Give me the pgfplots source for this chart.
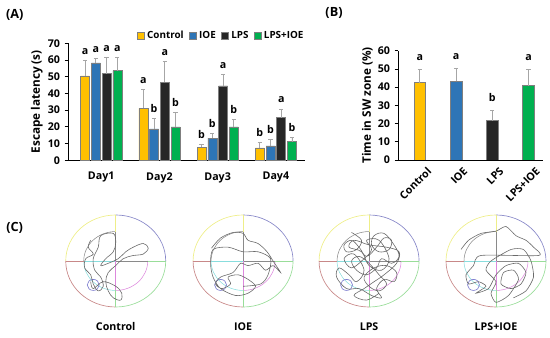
\documentclass[border=0pt]{standalone}
\usepackage{fontspec}
\setmainfont{Open Sans}
\usepackage{pgfplots}
\pgfplotsset{compat=1.18}
\usepackage{pgfplotstable}

\definecolor{cCtrl}{HTML}{FFC000}
\definecolor{cIOE}{HTML}{2E75B6}
\definecolor{cLPS}{HTML}{262626}
\definecolor{cMix}{HTML}{00B050}
\definecolor{cEdge}{HTML}{7F7F7F}
\definecolor{cErr}{HTML}{A6A6A6}
\definecolor{pY}{HTML}{EEEE88}
\definecolor{pB}{HTML}{8888C8}
\definecolor{pR}{HTML}{C88888}
\definecolor{pG}{HTML}{99DD99}
\definecolor{pK}{HTML}{8A8A8A}
\definecolor{pC}{HTML}{88DDDD}
\definecolor{pM}{HTML}{DD88DD}
\definecolor{pP}{HTML}{8080D0}
\definecolor{path}{HTML}{6A6A6A}

\newcommand{\lbl}{\bfseries\fontsize{8}{9.5}\selectfont}
\newcommand{\leglbl}{\bfseries\fontsize{7.4}{9}\selectfont}
\newcommand{\ylbl}{\bfseries\fontsize{8.8}{10.5}\selectfont}

% Panel A data: x, mean, sd, letter
\pgfplotstableread{
x y e lab
1 50.5 9.4 a
2 31.1 11.4 a
3 7.8 1.8 b
4 7.4 3.2 b
}\tCtrl
\pgfplotstableread{
x y e lab
1 58.3 2.7 a
2 18.8 6.3 b
3 13.2 2.6 b
4 8.6 4.0 b
}\tIOE
\pgfplotstableread{
x y e lab
1 51.9 9.6 a
2 46.7 12.2 a
3 44.5 6.8 a
4 25.5 5.2 a
}\tLPS
\pgfplotstableread{
x y e lab
1 53.7 8.0 a
2 20.0 8.7 b
3 20.0 4.6 b
4 11.1 2.8 b
}\tMix

\newcommand{\pooldeco}{%
 \draw[pY,line width=0.5pt] (axis cs:0,1) arc[start angle=90,end angle=180,x radius=1,y radius=1];
 \draw[pB,line width=0.5pt] (axis cs:1,0) arc[start angle=0,end angle=90,x radius=1,y radius=1];
 \draw[pR,line width=0.5pt] (axis cs:-1,0) arc[start angle=180,end angle=270,x radius=1,y radius=1];
 \draw[pG,line width=0.5pt] (axis cs:0,-1) arc[start angle=270,end angle=360,x radius=1,y radius=1];
 \draw[pK,line width=0.4pt] (axis cs:0,0.64) arc[start angle=90,end angle=180,x radius=0.64,y radius=0.64];
 \draw[pC,line width=0.4pt] (axis cs:-0.64,0) arc[start angle=180,end angle=270,x radius=0.64,y radius=0.64];
 \draw[pM,line width=0.4pt] (axis cs:0,-0.64) arc[start angle=270,end angle=360,x radius=0.64,y radius=0.64];
 \draw[pR,line width=0.5pt] (axis cs:-1,0) -- (axis cs:-0.64,0);
 \draw[pC,line width=0.5pt] (axis cs:-0.64,0) -- (axis cs:0,0);
 \draw[pK,line width=0.5pt] (axis cs:0,0) -- (axis cs:0.64,0);
 \draw[pG,line width=0.5pt] (axis cs:0.64,0) -- (axis cs:1,0);
 \draw[pY,line width=0.5pt] (axis cs:0,1) -- (axis cs:0,0.64);
 \draw[pK,line width=0.5pt] (axis cs:0,0.64) -- (axis cs:0,0);
 \draw[pM,line width=0.5pt] (axis cs:0,0) -- (axis cs:0,-0.64);
 \draw[pG,line width=0.5pt] (axis cs:0,-0.64) -- (axis cs:0,-1);
 \draw[pP,line width=0.5pt] (axis cs:-0.45,-0.52) ellipse[x radius=0.12,y radius=0.12];
}

\pgfplotsset{
  barpanel/.style={
    scale only axis,
    axis x line*=bottom, axis y line*=left,
    axis line style={black, line width=0.5pt},
    tick align=outside, major tick length=2.5pt,
    xtick style={draw=none},
    ytick style={black, line width=0.5pt},
    tick label style={font=\lbl},
    label style={font=\ylbl},
    /pgf/number format/assume math mode=true,
    error bars/y dir=plus, error bars/y explicit,
    error bars/error bar style={cErr, line width=0.6pt},
    error bars/error mark options={cErr, line width=0.6pt, mark size=1.6pt, rotate=90},
    nodes near coords={\pgfplotspointmeta},
    point meta=explicit symbolic,
  },
  poolpanel/.style={
    scale only axis, hide axis, clip=false, disabledatascaling,
    width=75pt, height=69pt,
    xmin=-1, xmax=1, ymin=-1, ymax=1,
  },
}

\begin{document}
\begin{tikzpicture}
\path (0pt,0pt) rectangle (412.5pt,253.5pt);

% ---------------- Panel A ----------------
\begin{axis}[barpanel,
  at={(51pt,133.3pt)}, anchor=south west,
  width=177.75pt, height=87.75pt,
  xmin=0.43, xmax=4.5, ymin=0, ymax=70,
  ytick={0,10,...,70},
  xtick={1,2,3,4}, xticklabels={Day1,Day2,Day3,Day4},
  xticklabel style={yshift=-3pt},
  ylabel={Escape latency (s)},
  ylabel style={yshift=-3pt},
  ybar=1.3pt, bar width=6.75pt,
  visualization depends on={\thisrow{e} \as \err},
  every node near coord/.append style={font=\lbl, anchor=base, inner sep=0pt,
     shift={(axis direction cs:0,\err)}, yshift=4.5pt},
  legend style={at={(0.29,1.065)}, anchor=west, draw=none, fill=none,
     legend columns=4, font=\leglbl, inner sep=0pt,
     /tikz/every even column/.append style={column sep=2pt}},
  legend image code/.code={\draw[#1,draw=cEdge,line width=0.4pt] (0pt,-2.6pt) rectangle (5.2pt,2.6pt);},
]
\addplot[fill=cCtrl, draw=cEdge, line width=0.4pt] table[x=x,y=y,y error=e,meta=lab] {\tCtrl};
\addplot[fill=cIOE, draw=cEdge, line width=0.4pt] table[x=x,y=y,y error=e,meta=lab] {\tIOE};
\addplot[fill=cLPS, draw=cEdge, line width=0.4pt] table[x=x,y=y,y error=e,meta=lab] {\tLPS};
\addplot[fill=cMix, draw=cEdge, line width=0.4pt] table[x=x,y=y,y error=e,meta=lab] {\tMix};
\legend{Control,IOE,LPS,LPS+IOE}
\end{axis}

% ---------------- Panel B ----------------
\begin{axis}[barpanel,
  at={(298.5pt,133.5pt)}, anchor=south west,
  width=108.75pt, height=82pt,
  xmin=0.4, xmax=4.4, ymin=0, ymax=60,
  ytick={0,10,...,60},
  xtick={1,2,3,4}, xticklabels={Control,IOE,LPS,LPS+IOE},
  xticklabel style={rotate=45, anchor=north east, inner sep=1pt, xshift=3pt, yshift=-4pt},
  ylabel={Time in SW zone (\%)},
  ylabel style={yshift=-3pt},
  ybar, bar width=8.8pt,
  visualization depends on={\thisrow{e} \as \err},
  every node near coord/.append style={font=\lbl, anchor=base, inner sep=0pt,
     shift={(axis direction cs:0,\err)}, yshift=6.5pt},
]
\addplot[bar shift=0pt, fill=cCtrl, draw=cEdge, line width=0.4pt] table[x=x,y=y,y error=e,meta=lab] {
x y e lab
1 42.4 7.5 a
};
\addplot[bar shift=0pt, fill=cIOE, draw=cEdge, line width=0.4pt] table[x=x,y=y,y error=e,meta=lab] {
x y e lab
2 43.2 7.0 a
};
\addplot[bar shift=0pt, fill=cLPS, draw=cEdge, line width=0.4pt] table[x=x,y=y,y error=e,meta=lab] {
x y e lab
3 21.6 5.6 b
};
\addplot[bar shift=0pt, fill=cMix, draw=cEdge, line width=0.4pt] table[x=x,y=y,y error=e,meta=lab] {
x y e lab
4 40.8 9.1 a
};
\end{axis}

% ---------------- Panel C ----------------
\begin{axis}[poolpanel, at={(86.8pt,57.75pt)}, anchor=center]
\pooldeco
\addplot[path, line width=0.45pt, smooth, tension=0.6] coordinates {
(-0.5,0.45) (-0.55,0.3) (-0.45,0.15) (-0.6,0.05) (-0.62,-0.15) (-0.5,-0.3) (-0.45,-0.5) (-0.35,-0.65) (-0.25,-0.55) (-0.3,-0.35) (-0.42,-0.2) (-0.45,0.05) (-0.35,0.3) (-0.3,0.55) (-0.05,0.6) (0.0,0.4) (-0.05,0.2) (-0.2,0.05) (-0.3,-0.1) (-0.15,-0.05) (0.05,0.05) (0.2,0.2) (0.35,0.3) (0.55,0.38) (0.65,0.28) (0.55,0.15) (0.35,0.12) (0.15,0.05) (0.0,-0.1) (-0.15,-0.25) (-0.2,-0.45) (-0.15,-0.65) (-0.05,-0.8) (0.1,-0.85) (0.12,-0.7) (0.0,-0.55) (-0.25,-0.45) (-0.45,-0.6) (-0.5,-0.45)
};
\end{axis}

\begin{axis}[poolpanel, at={(182.3pt,57.75pt)}, anchor=center]
\pooldeco
\addplot[path, line width=0.45pt, smooth, tension=0.5] coordinates {
(-0.63,0.28) (-0.45,0.5) (-0.2,0.62) (0.0,0.6) (0.1,0.45) (0.3,0.38) (0.48,0.2) (0.6,0.0) (0.75,-0.25) (0.6,-0.1) (0.45,-0.2) (0.3,-0.05) (0.1,-0.1) (-0.05,-0.05) (-0.2,-0.25) (-0.45,-0.35) (-0.55,-0.5) (-0.42,-0.6) (-0.25,-0.5) (-0.3,-0.35) (-0.1,-0.3) (0.1,-0.4) (0.25,-0.55) (0.1,-0.7) (-0.15,-0.75) (-0.45,-0.6) (-0.6,-0.35) (-0.65,-0.05) (-0.6,0.25) (-0.3,0.3) (0.0,0.2) (0.3,0.2) (0.55,0.05) (0.5,-0.3) (0.35,-0.5) (0.0,-0.55)
};
\end{axis}

\begin{axis}[poolpanel, at={(276.8pt,57.75pt)}, anchor=center]
\pooldeco
\addplot[path, line width=0.45pt, smooth, tension=0.6] coordinates {
(-0.35,0.62) (-0.15,0.45) (-0.25,0.25) (-0.45,0.2) (-0.5,0.35) (-0.35,0.45) (-0.2,0.3) (-0.05,0.1) (0.15,0.3) (0.3,0.5) (0.45,0.45) (0.4,0.25) (0.2,0.2) (0.05,0.35) (0.1,0.55) (0.3,0.6) (0.5,0.35) (0.6,0.1) (0.45,-0.05) (0.25,0.05) (0.15,-0.15) (-0.05,-0.3) (-0.25,-0.2) (-0.35,0.0) (-0.2,0.1) (0.0,-0.05) (0.2,-0.3) (0.35,-0.5) (0.2,-0.65) (0.0,-0.55) (-0.1,-0.35) (0.1,-0.15) (0.35,-0.1) (0.55,-0.25) (0.5,-0.45) (0.3,-0.4) (0.15,-0.6) (0.25,-0.8) (0.05,-0.75) (-0.2,-0.6) (-0.45,-0.6) (-0.65,-0.35) (-0.6,-0.15) (-0.4,-0.3) (-0.25,-0.45) (-0.1,-0.2) (-0.3,0.15) (-0.5,0.05) (-0.35,-0.15) (-0.1,0.05) (0.05,0.25) (-0.05,0.45) (0.2,0.45) (0.4,0.05) (0.25,-0.2) (0.0,-0.1) (-0.15,0.2) (-0.4,0.3) (-0.3,0.45) (0.0,0.35) (0.35,0.3) (0.6,0.2) (0.55,-0.05) (0.3,-0.3) (0.1,-0.45) (-0.1,-0.6) (-0.3,-0.75) (-0.05,-0.85) (0.2,-0.7)
};
\end{axis}

\begin{axis}[poolpanel, at={(372pt,57.75pt)}, anchor=center]
\pooldeco
\addplot[path, line width=0.45pt, smooth, tension=0.4] coordinates {
(-0.7,0.25) (-0.55,0.45) (-0.3,0.6) (0.0,0.65) (0.2,0.75) (0.4,0.55) (0.6,0.45) (0.75,0.3) (0.85,0.12) (-0.3,0.12) (-0.45,-0.1) (-0.6,-0.3) (-0.55,-0.5) (-0.35,-0.45) (-0.2,-0.55) (-0.4,-0.7) (-0.15,-0.6) (0.0,-0.3) (0.2,-0.1) (0.45,-0.05) (0.6,-0.25) (0.5,-0.5) (0.3,-0.6) (0.1,-0.5) (0.15,-0.25) (0.35,-0.2) (0.45,-0.4) (0.25,-0.75) (0.0,-0.9) (-0.1,-0.7) (0.0,-0.45) (-0.2,-0.2) (-0.1,0.0) (0.3,0.25) (0.55,0.25) (0.7,0.0) (0.75,-0.35) (0.6,-0.65) (0.35,-0.8)
};
\end{axis}

% labels
\node[font=\lbl] at (86.8pt,8.25pt) {Control};
\node[font=\lbl] at (182.3pt,8.25pt) {IOE};
\node[font=\lbl] at (276.8pt,8.25pt) {LPS};
\node[font=\lbl] at (372pt,8.25pt) {LPS+IOE};
\node[font=\bfseries\fontsize{9.5}{11}\selectfont] at (11pt,242pt) {(A)};
\node[font=\bfseries\fontsize{9.5}{11}\selectfont] at (250.5pt,243.5pt) {(B)};
\node[font=\bfseries\fontsize{9.5}{11}\selectfont] at (11pt,82.5pt) {(C)};
\end{tikzpicture}
\end{document}
